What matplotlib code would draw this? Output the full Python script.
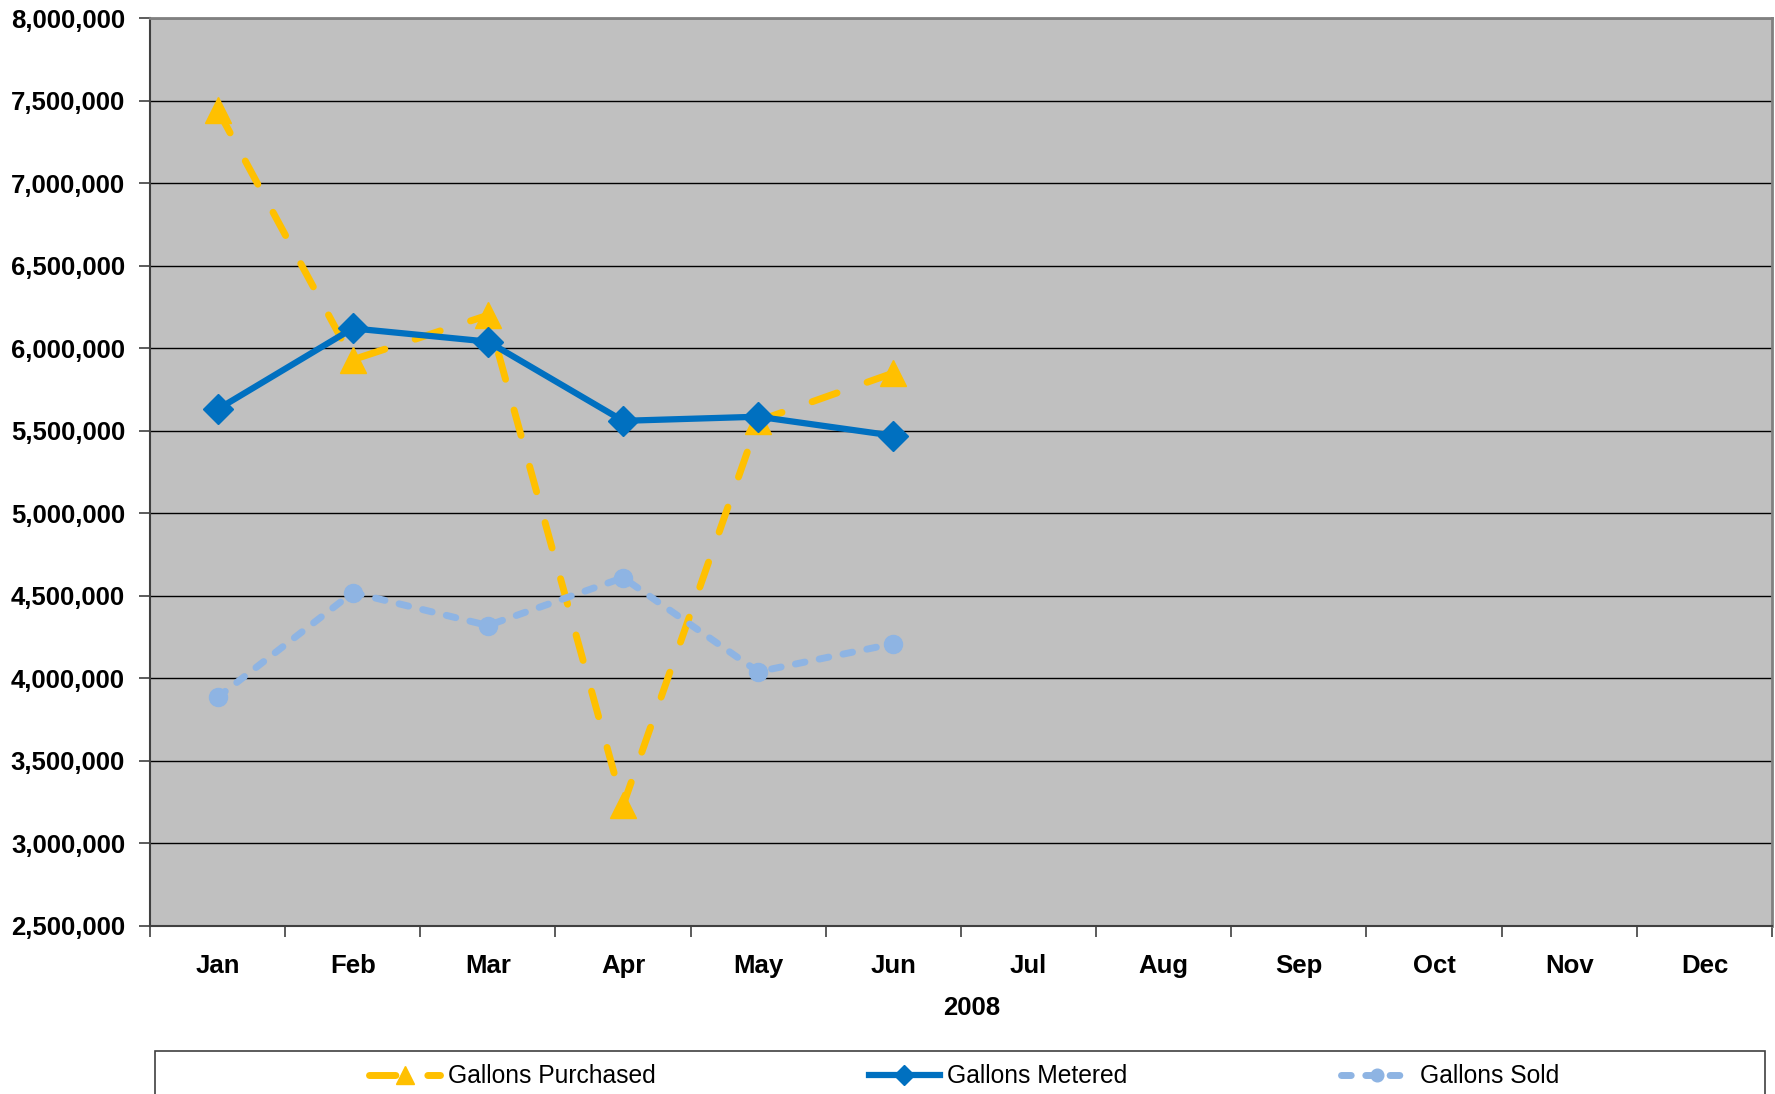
#! /usr/bin/env python

import numpy as np
import matplotlib
matplotlib.use('Agg')
import matplotlib.pyplot as plt
from matplotlib.patches import Rectangle
from matplotlib.ticker import FuncFormatter, MultipleLocator

months = ['Jan', 'Feb', 'Mar', 'Apr', 'May', 'Jun',
          'Jul', 'Aug', 'Sep', 'Oct', 'Nov', 'Dec']
year_label = '2008'

# values (Jan..Jun only)
gallons_purchased = [7445000, 5930000, 6200000, 3230000, 5560000, 5850000]
gallons_metered = [5630000, 6120000, 6040000, 5560000, 5585000, 5470000]
gallons_sold = [3885000, 4520000, 4320000, 4610000, 4040000, 4210000]

series_names = ['Gallons Purchased', 'Gallons Metered', 'Gallons Sold']

plt.rcParams['font.family'] = ['Liberation Sans', 'DejaVu Sans']


def main():
    fig = plt.figure(figsize=(17.75, 10.94), dpi=100)
    ax = fig.add_axes([0.0845, 0.1536, 0.9138, 0.8299])
    ax.set_facecolor('#C0C0C0')

    x = np.arange(len(gallons_purchased))

    # purchased first, sold last (sold sits on top)
    ax.plot(x, gallons_purchased, color='#FFC000', lw=5, dashes=(3.8, 4.6),
            dash_capstyle='round', marker='^', markersize=19,
            label=series_names[0])
    ax.plot(x, gallons_metered, color='#0070C0', lw=4.5, marker='D',
            markersize=15, label=series_names[1])
    ax.plot(x, gallons_sold, color='#8EB4E3', lw=5, dashes=(1.4, 2.1),
            dash_capstyle='round', marker='o', markersize=13,
            label=series_names[2])

    ax.set_xlim(-0.5, len(months) - 0.5)
    ax.set_ylim(2500000, 8000000)

    # y axis
    ax.yaxis.set_major_locator(MultipleLocator(500000))
    ax.yaxis.set_major_formatter(FuncFormatter(lambda v, p: '{:,.0f}'.format(v)))
    ax.yaxis.grid(True, color='black', lw=1.0)
    ax.set_axisbelow(True)
    ax.tick_params(axis='y', length=8, width=1.2, color='#404040', pad=10,
                   labelsize=18.5)

    # x axis: labels at month centres, ticks at month boundaries
    ax.set_xticks(np.arange(len(months)))
    ax.set_xticklabels(months)
    ax.set_xticks(np.arange(len(months) + 1) - 0.5, minor=True)
    ax.tick_params(axis='x', which='major', length=0, pad=20, labelsize=18.5)
    ax.tick_params(axis='x', which='minor', length=8, width=1.2, color='#404040')
    for lbl in ax.get_xticklabels() + ax.get_yticklabels():
        lbl.set_fontweight('bold')

    ax.set_xlabel(year_label, fontsize=18.5, fontweight='bold', labelpad=13,
                  x=0.5063)

    for side in ['top', 'right']:
        ax.spines[side].set_color('#808080')
        ax.spines[side].set_linewidth(2)
    for side in ['left', 'bottom']:
        ax.spines[side].set_color('#404040')
        ax.spines[side].set_linewidth(1.5)

    # legend box runs off the bottom of the picture
    box = Rectangle((0.0873, -0.05), 0.9071, 0.0893, transform=fig.transFigure,
                    facecolor='white', edgecolor='#404040', lw=1.2, clip_on=False)
    fig.patches.append(box)

    handles, labels = ax.get_legend_handles_labels()
    fig.legend(handles, labels, loc='center', bbox_to_anchor=(0.5431, 0.0161),
               ncol=3, frameon=False, fontsize=17.7, handlelength=2.9,
               handletextpad=0.3, columnspacing=8.68, markerscale=0.7,
               numpoints=1)

    fig.savefig('out.png', dpi=100)
    plt.close()


if __name__ == "__main__":
    main()
